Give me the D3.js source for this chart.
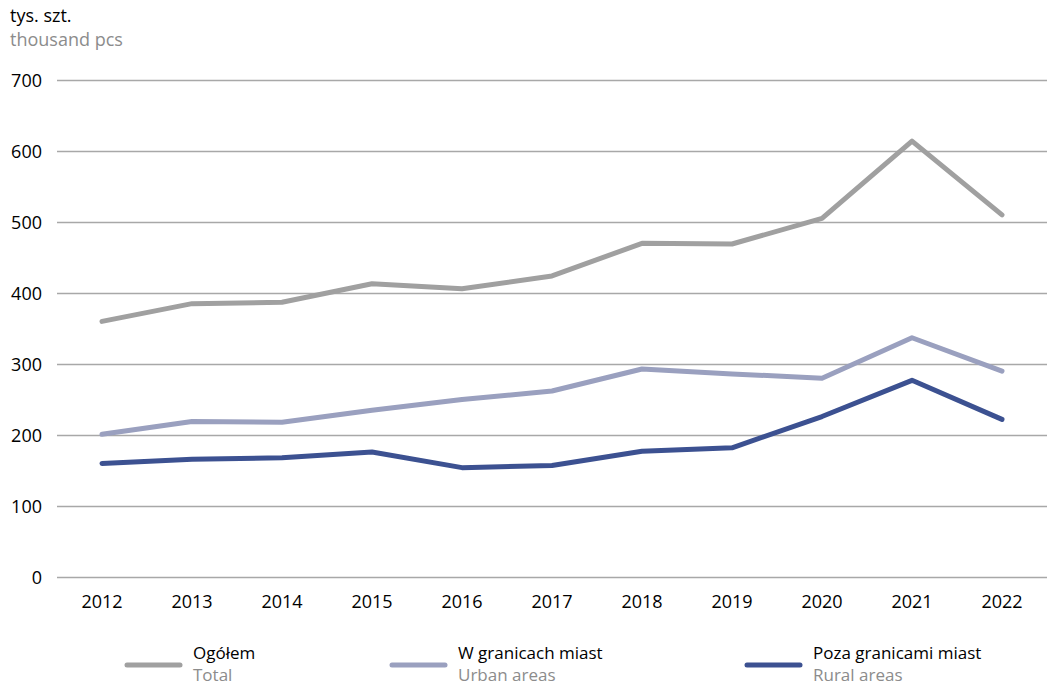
<!DOCTYPE html>
<html>
<head>
<meta charset="utf-8">
<script src="https://cdn.jsdelivr.net/npm/d3@7"></script>
<style>
  body { margin: 0; background: #fff; }
  svg { font-family: "Open Sans", "Noto Sans", sans-serif; }
  .tick text { font-size: 18px; fill: #000; font-family: "Open Sans", "Noto Sans", sans-serif; }
</style>
</head>
<body>
<div id="chart"></div>
<script>
// DATA
const years = ["2012","2013","2014","2015","2016","2017","2018","2019","2020","2021","2022"];
const total = [360, 385, 387, 413, 406, 424, 470, 469, 505, 614, 510];
const urban = [201, 219, 218, 235, 250, 262, 293, 286, 280, 337, 290];
const rural = [160, 166, 168, 176, 154, 157, 177, 182, 226, 277, 222];
const yTicks = [0, 100, 200, 300, 400, 500, 600, 700];

const series = [
  { pl: "Ogółem", en: "Total", values: total, color: "#a0a0a0" },
  { pl: "W granicach miast", en: "Urban areas", values: urban, color: "#9aa0bf" },
  { pl: "Poza granicami miast", en: "Rural areas", values: rural, color: "#3c5191" }
];

const width = 1047, height = 685;
const margin = { top: 80, bottom: 108, left: 57, right: 0 };

const svg = d3.select("#chart").append("svg")
  .attr("width", width)
  .attr("height", height);

// SCALES
const xScale = d3.scaleBand()
  .domain(years)
  .range([margin.left, width - margin.right]);

const yScale = d3.scaleLinear()
  .domain([0, 700])
  .range([height - margin.bottom, margin.top]);

// unit label
svg.append("text").attr("x", 10).attr("y", 22)
  .attr("font-size", 18).attr("fill", "#000").text("tys. szt.");
svg.append("text").attr("x", 10).attr("y", 46)
  .attr("font-size", 18).attr("fill", "#8c8c8c").text("thousand pcs");

// gridlines + y labels
const yAxis = svg.append("g")
  .attr("transform", `translate(${margin.left},0)`)
  .call(d3.axisLeft(yScale).tickValues(yTicks).tickSize(-(width - margin.left - margin.right)).tickPadding(15))
  .call(g => g.select(".domain").remove());
yAxis.selectAll(".tick line").attr("stroke", "#a8a8a8").attr("stroke-width", 1.5);
yAxis.selectAll(".tick text").attr("dy", "0.35em");

// x axis labels
svg.append("g")
  .attr("transform", `translate(0,${height - margin.bottom})`)
  .call(d3.axisBottom(xScale).tickSize(0).tickPadding(18))
  .call(g => g.select(".domain").remove());

svg.selectAll("g").attr("font-family", null);

// lines
const line = d3.line()
  .x((d, i) => xScale(years[i]) + xScale.bandwidth() / 2)
  .y(d => yScale(d));

svg.selectAll(".series")
  .data(series)
  .join("path")
  .attr("class", "series")
  .attr("fill", "none")
  .attr("stroke", d => d.color)
  .attr("stroke-width", 5)
  .attr("stroke-linecap", "round")
  .attr("stroke-linejoin", "round")
  .attr("d", d => line(d.values));

// legend
const legendX = [127, 392, 747];
const legend = svg.selectAll(".legend")
  .data(series)
  .join("g")
  .attr("class", "legend")
  .attr("transform", (d, i) => `translate(${legendX[i]},0)`);

legend.append("line")
  .attr("x1", 0).attr("x2", 53)
  .attr("y1", 665).attr("y2", 665)
  .attr("stroke", d => d.color)
  .attr("stroke-width", 5)
  .attr("stroke-linecap", "round");

legend.append("text")
  .attr("x", 66).attr("y", 659)
  .attr("font-size", 17).attr("fill", "#000")
  .text(d => d.pl);

legend.append("text")
  .attr("x", 66).attr("y", 681)
  .attr("font-size", 17).attr("fill", "#8c8c8c")
  .text(d => d.en);
</script>
</body>
</html>
